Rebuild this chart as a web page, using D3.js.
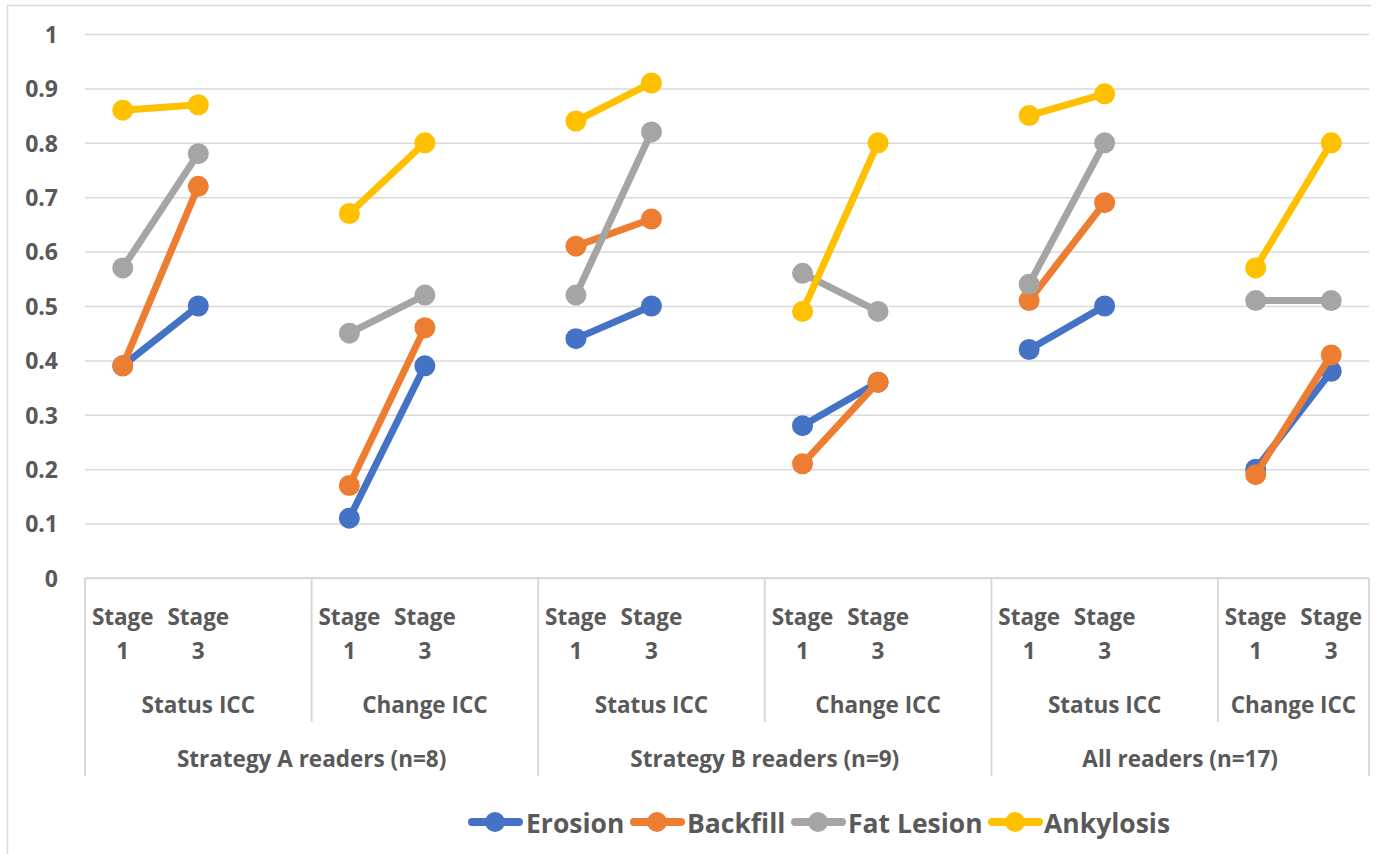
<!DOCTYPE html>
<html>
<head>
<meta charset="utf-8">
<script src="https://cdn.jsdelivr.net/npm/d3@7/dist/d3.min.js"></script>
<style>
  html, body { margin: 0; padding: 0; background: #fff; overflow: hidden; }
  svg { display: block; }
  text { font-family: "Open Sans", "Noto Sans", sans-serif; font-weight: 700; fill: #595959; }
</style>
</head>
<body>
<svg id="chart" width="1377" height="854"></svg>
<script>
// Reader groups, ICC types and stages form a three-level category axis
const readerGroups = ["Strategy A readers (n=8)", "Strategy B readers (n=9)", "All readers (n=17)"];
const iccTypes = ["Status ICC", "Change ICC"];
const stages = ["Stage 1", "Stage 3"];

// ICC values, ordered group → ICC type → stage (12 values each)
const erosion   = [0.39, 0.50, 0.11, 0.39, 0.44, 0.50, 0.28, 0.36, 0.42, 0.50, 0.20, 0.38];
const backfill  = [0.39, 0.72, 0.17, 0.46, 0.61, 0.66, 0.21, 0.36, 0.51, 0.69, 0.19, 0.41];
const fatLesion = [0.57, 0.78, 0.45, 0.52, 0.52, 0.82, 0.56, 0.49, 0.54, 0.80, 0.51, 0.51];
const ankylosis = [0.86, 0.87, 0.67, 0.80, 0.84, 0.91, 0.49, 0.80, 0.85, 0.89, 0.57, 0.80];

const yTicks = [0, 0.1, 0.2, 0.3, 0.4, 0.5, 0.6, 0.7, 0.8, 0.9, 1];

const series = [
  { name: "Erosion",    values: erosion,   color: "#4472C4" },
  { name: "Backfill",   values: backfill,  color: "#ED7D31" },
  { name: "Fat Lesion", values: fatLesion, color: "#A5A5A5" },
  { name: "Ankylosis",  values: ankylosis, color: "#FFC000" }
];

// Category slots: each ICC block holds its two stages followed by an empty slot
// (the empty slot breaks the line between blocks); the last block has no trailing slot.
const slots = [];
let dataIndex = 0;
readerGroups.forEach((g, gi) => {
  iccTypes.forEach((t, ti) => {
    stages.forEach(s => {
      slots.push({ key: "s" + slots.length, group: g, type: t, stage: s, data: dataIndex++ });
    });
    const last = gi === readerGroups.length - 1 && ti === iccTypes.length - 1;
    if (!last) slots.push({ key: "s" + slots.length, group: g, type: t, stage: null, data: null });
  });
});

const svg = d3.select("#chart");
const plot = { left: 85, right: 1369, top: 34, bottom: 578 };

const x = d3.scaleBand().domain(slots.map(d => d.key)).range([plot.left, plot.right]).padding(0);
const y = d3.scaleLinear().domain([0, 1]).range([plot.bottom, plot.top]);
const cx = key => x(key) + x.bandwidth() / 2;

// Outer chart border
svg.append("path")
  .attr("d", "M1371,5.5 H7.5 V854")
  .attr("fill", "none").attr("stroke", "#D9D9D9").attr("stroke-width", 1.5);

// Horizontal gridlines and y tick labels
const yAxis = d3.axisLeft(y).tickValues(yTicks).tickSize(-(plot.right - plot.left)).tickFormat(d3.format("~g")).tickPadding(27);
const yg = svg.append("g").attr("transform", `translate(${plot.left},0)`).call(yAxis);
yg.select(".domain").remove();
yg.selectAll(".tick line").attr("stroke", "#D9D9D9").attr("stroke-width", 1.5);
yg.selectAll(".tick text").attr("font-size", 23).attr("fill", "#595959").attr("dy", "0.36em")
  .style("font-family", '"Open Sans", sans-serif').style("font-weight", 700);

// Category axis line
svg.append("line")
  .attr("x1", plot.left).attr("x2", plot.right).attr("y1", y(0)).attr("y2", y(0))
  .attr("stroke", "#D9D9D9").attr("stroke-width", 2);

// Stage tick labels (two lines each)
const stageLabels = svg.append("g");
slots.filter(d => d.stage).forEach(d => {
  const [w1, w2] = d.stage.split(" ");
  const t = stageLabels.append("text").attr("text-anchor", "middle").attr("font-size", 22.5);
  t.append("tspan").attr("x", cx(d.key)).attr("y", 625).text(w1);
  t.append("tspan").attr("x", cx(d.key)).attr("y", 659).text(w2);
});

// ICC type labels and dividers
const blocks = [];
readerGroups.forEach(g => iccTypes.forEach(t => {
  const ks = slots.filter(s => s.group === g && s.type === t).map(s => s.key);
  blocks.push({ group: g, type: t, x0: x(ks[0]), x1: x(ks[ks.length - 1]) + x.bandwidth() });
}));
svg.append("g").selectAll("text").data(blocks).join("text")
  .attr("x", d => (d.x0 + d.x1) / 2).attr("y", 713)
  .attr("text-anchor", "middle").attr("font-size", 22.5).text(d => d.type);

// Reader group labels
const groupSpans = readerGroups.map(g => {
  const bs = blocks.filter(b => b.group === g);
  return { group: g, x0: bs[0].x0, x1: bs[bs.length - 1].x1 };
});
svg.append("g").selectAll("text").data(groupSpans).join("text")
  .attr("x", d => (d.x0 + d.x1) / 2).attr("y", 767)
  .attr("text-anchor", "middle").attr("font-size", 22.5).text(d => d.group);

// Dividers: short ones between ICC blocks, long ones between reader groups
const dividers = svg.append("g").attr("stroke", "#D9D9D9").attr("stroke-width", 2);
blocks.forEach((b, i) => {
  const groupEdge = i % iccTypes.length === iccTypes.length - 1;
  dividers.append("line").attr("x1", b.x1).attr("x2", b.x1)
    .attr("y1", y(0)).attr("y2", groupEdge ? 776 : 722);
});
dividers.append("line").attr("x1", plot.left).attr("x2", plot.left).attr("y1", y(0)).attr("y2", 776);

// Lines and markers
const line = d3.line()
  .defined(d => d.data !== null)
  .x(d => cx(d.key))
  .y(d => d.v);
const marks = svg.append("g");
series.forEach(s => {
  const pts = slots.map(d => ({ key: d.key, data: d.data, v: d.data === null ? 0 : y(s.values[d.data]) }));
  marks.append("path").datum(pts)
    .attr("d", line).attr("fill", "none")
    .attr("stroke", s.color).attr("stroke-width", 7).attr("stroke-linecap", "round");
  marks.append("g").selectAll("circle").data(pts.filter(p => p.data !== null)).join("circle")
    .attr("cx", p => cx(p.key)).attr("cy", p => p.v).attr("r", 10.5).attr("fill", s.color);
});

// Legend
const legendItems = [
  { s: series[0], lx: 468, tx: 526 },
  { s: series[1], lx: 630, tx: 687 },
  { s: series[2], lx: 791, tx: 848 },
  { s: series[3], lx: 988, tx: 1044 }
];
const legend = svg.append("g");
legendItems.forEach(it => {
  legend.append("line").attr("x1", it.lx + 4).attr("x2", it.lx + 51).attr("y1", 822).attr("y2", 822)
    .attr("stroke", it.s.color).attr("stroke-width", 8).attr("stroke-linecap", "round");
  legend.append("circle").attr("cx", it.lx + 27).attr("cy", 822).attr("r", 10).attr("fill", it.s.color);
  legend.append("text").attr("x", it.tx).attr("y", 833).attr("font-size", 26.5).text(it.s.name);
});
</script>
</body>
</html>
